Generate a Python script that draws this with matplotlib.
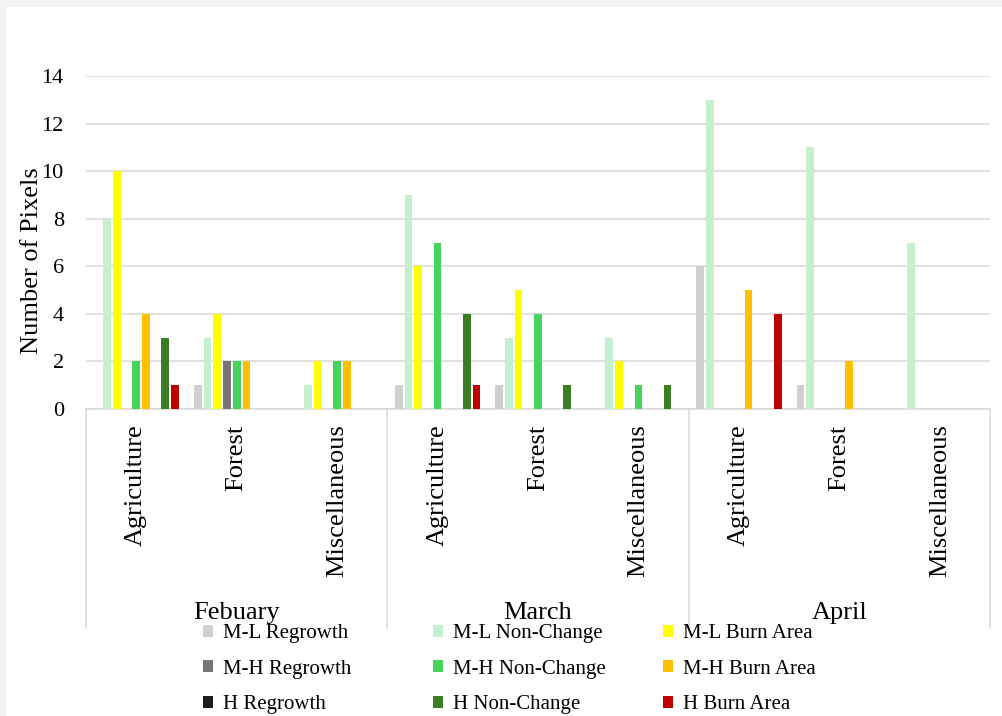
import numpy as np
import matplotlib.pyplot as plt
from matplotlib.patches import Rectangle

plt.rcParams['font.family'] = ['Liberation Serif', 'DejaVu Serif']

months = ['Febuary', 'March', 'April']
classes = ['Agriculture', 'Forest', 'Miscellaneous']
series = ['M-L Regrowth', 'M-L Non-Change', 'M-L Burn Area',
          'M-H Regrowth', 'M-H Non-Change', 'M-H Burn Area',
          'H Regrowth', 'H Non-Change', 'H Burn Area']
colors = ['#d0d0d0', '#c6efce', '#ffff00',
          '#767676', '#47d45a', '#ffc000',
          '#1c1c1c', '#3a7d22', '#c00000']

# one value per (month, class): Feb Agr/For/Misc, Mar ..., Apr ...
ml_regrowth = [0, 1, 0, 1, 1, 0, 6, 1, 0]
ml_nonchange = [8, 3, 1, 9, 3, 3, 13, 11, 7]
ml_burn = [10, 4, 2, 6, 5, 2, 0, 0, 0]
mh_regrowth = [0, 2, 0, 0, 0, 0, 0, 0, 0]
mh_nonchange = [2, 2, 2, 7, 4, 1, 0, 0, 0]
mh_burn = [4, 2, 2, 0, 0, 0, 5, 2, 0]
h_regrowth = [0, 0, 0, 0, 0, 0, 0, 0, 0]
h_nonchange = [3, 0, 0, 4, 1, 1, 0, 0, 0]
h_burn = [1, 0, 0, 1, 0, 0, 4, 0, 0]

values = [ml_regrowth, ml_nonchange, ml_burn,
          mh_regrowth, mh_nonchange, mh_burn,
          h_regrowth, h_nonchange, h_burn]

W, H = 1003, 716
fig = plt.figure(figsize=(W / 100, H / 100), dpi=100, facecolor='#f3f3f3')
fig.patches.append(Rectangle((6 / W, 0), 1, 1 - 7 / H, transform=fig.transFigure,
                             facecolor='white', edgecolor='none', zorder=-10))

ax = fig.add_axes([86 / W, 1 - 409 / H, 904 / W, 333 / H])

x = np.arange(9)
pitch = 0.0966
width = 0.077
bars = []
for i, (name, vals, c) in enumerate(zip(series, values, colors)):
    b = ax.bar(x + (i - 4) * pitch, vals, width=width, color=c, label=name, zorder=3)
    bars.append(b)

ax.set_xlim(-0.5, 8.5)
ax.set_ylim(0, 14)
ax.set_yticks(range(0, 15, 2))
ax.yaxis.grid(True, color='#d9d9d9', lw=1.1)
ax.set_axisbelow(True)
for s in ['left', 'top', 'right']:
    ax.spines[s].set_visible(False)
ax.spines['bottom'].set_color('#d9d9d9')
ax.spines['bottom'].set_linewidth(1.1)
ax.tick_params(axis='y', length=0, pad=16, labelsize=16)

ax.set_xticks(x)
ax.set_xticklabels(classes * 3, rotation=90, fontsize=19)
ax.tick_params(axis='x', length=0, pad=11)

# month group separators and labels under the class labels
trans = ax.get_xaxis_transform()
for xb in [-0.5, 2.5, 5.5, 8.5]:
    ax.plot([xb, xb], [0, -219 / 333], transform=trans, color='#d9d9d9',
            lw=1.1, clip_on=False)
for k, m in enumerate(months):
    ax.text(1 + 3 * k, (409 - 613) / 333, m, transform=trans,
            ha='center', va='center', fontsize=19)

fig.text(32 / W, 1 - 261 / H, 'Number of Pixels', rotation=90,
         ha='center', va='center', fontsize=19)

# legend: one column each for Regrowth / Non-Change / Burn Area
for c, xl in enumerate([203, 433, 663]):
    idx = [c, c + 3, c + 6]
    fig.legend([bars[i] for i in idx], [series[i] for i in idx],
               loc='upper left', bbox_to_anchor=(xl / W, 1 - 624 / H),
               frameon=False, fontsize=15, handlelength=0.5, handleheight=0.5,
               handletextpad=0.45, labelspacing=0.8, borderpad=0,
               borderaxespad=0)

fig.savefig('out.png', dpi=100, facecolor=fig.get_facecolor())
